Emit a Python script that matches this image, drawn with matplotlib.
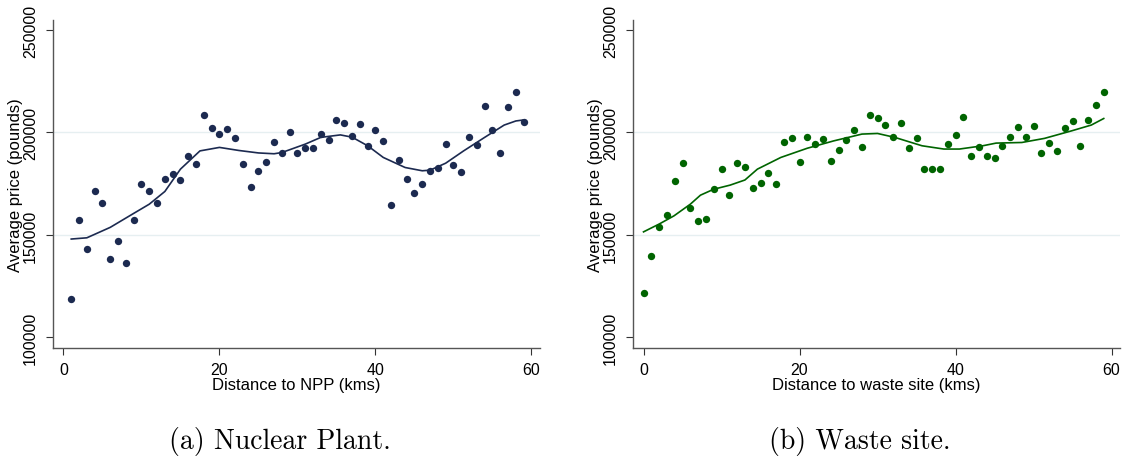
import matplotlib
matplotlib.use('Agg')
import matplotlib.pyplot as plt

# average house price by distance, nuclear power plant panel
npp_km = list(range(1, 60))
npp_price = [118700, 157200, 143100, 171500, 165400, 138500, 147000, 136200, 157100, 174800,
             171500, 165400, 177400, 179800, 176600, 188300, 184700, 208400, 202400, 199300,
             201800, 197100, 184500, 173300, 181100, 185500, 195400, 190200, 200100, 190000,
             192200, 192300, 199200, 196100, 206300, 204400, 198500, 204000, 193300, 201100,
             195900, 164700, 186800, 177100, 170400, 174900, 181300, 182700, 194300, 183900,
             180800, 198000, 193800, 212800, 201100, 189900, 212200, 219700, 205000]
# smoothed line
npp_fit_km = [1, 3, 6, 9, 11, 13, 15, 17.5, 20, 22.5, 25, 27, 28, 31, 33, 35.5, 37, 39, 41,
              43.8, 46, 47, 49, 51.3, 54, 56.5, 58, 59]
npp_fit = [148000, 148600, 153700, 160500, 165000, 171200, 182100, 191000, 192700, 191200,
           190000, 189600, 190200, 194300, 197600, 198800, 197700, 193500, 187800,
           182900, 181300, 181600, 185000, 191000, 197600, 203600, 205600, 206100]

# waste site panel
waste_km = list(range(0, 60))
waste_price = [121600, 139800, 154100, 159700, 176400, 184900, 162900, 156900, 157900, 172300,
               182000, 169400, 185200, 182900, 173000, 175100, 180100, 174800, 195300, 197200,
               185400, 198000, 194400, 196900, 186100, 191500, 196200, 201300, 193000, 208400,
               207000, 203700, 198000, 204400, 192300, 197100, 182400, 182100, 182100, 194600,
               198700, 207300, 188600, 192700, 188400, 187300, 193200, 197700, 202700, 197700,
               203100, 190200, 194800, 191000, 202400, 205400, 193300, 206000, 213300, 219500]
waste_fit_km = [0, 2, 3.9, 6, 7.3, 9, 11.1, 13, 14.6, 17.6, 21, 24.4, 26.7, 28, 30, 32.2,
                35.7, 38.5, 40.5, 43.5, 45.2, 48.5, 51.4, 54.9, 57.4, 59]
waste_fit = [151500, 155300, 159300, 165000, 169400, 172300, 174300, 176800, 182100, 187800,
             192300, 195900, 198000, 199200, 199500, 197600, 193500, 191900, 191900, 193500,
             194800, 195100, 197100, 200800, 203600, 206800]

yticks = [100000, 150000, 200000, 250000]
gridlines = [150000, 200000]
xticks = [0, 20, 40, 60]

plt.rcParams['font.family'] = ['Liberation Sans', 'DejaVu Sans']


def draw_panel(ax, km, price, fit_km, fit, color, xlabel, caption):
  '''
  one Stata-style scatter with its smoothed line
  '''
  for y in gridlines:
    ax.axhline(y, color='#e6eff1', lw=1.0, zorder=0)
  ax.scatter(km, price, s=28, color=color, zorder=3, linewidths=0)
  ax.plot(fit_km, fit, color=color, lw=1.2, zorder=2)
  ax.set_xlim(-1.3, 61.1)
  ax.set_ylim(95000, 255000)
  ax.set_xticks(xticks)
  ax.set_yticks(yticks)
  ax.set_yticklabels([str(t) for t in yticks], rotation=90, va='center')
  ax.tick_params(axis='both', direction='out', length=5, width=0.8, color='#333333',
                 labelsize=11.5)
  ax.tick_params(axis='x', pad=5)
  ax.tick_params(axis='y', pad=6)
  for side in ['top', 'right']:
    ax.spines[side].set_visible(False)
  for side in ['left', 'bottom']:
    ax.spines[side].set_color('#555555')
    ax.spines[side].set_linewidth(1.0)
  ax.set_xlabel(xlabel, fontsize=12)
  ax.set_ylabel('Average price (pounds)', fontsize=12)
  ax.xaxis.set_label_coords(0.5, -0.088)
  ax.yaxis.set_label_coords(-0.062, 0.5)
  ax.text(0.466, -0.283, caption, transform=ax.transAxes, ha='center', va='center',
          fontsize=20, family='cmr10')


fig = plt.figure(figsize=(11.27, 4.6), dpi=100)
ax1 = fig.add_axes([0.0473, 0.242, 0.4319, 0.713])
ax2 = fig.add_axes([0.562, 0.242, 0.4319, 0.713])

draw_panel(ax1, npp_km, npp_price, npp_fit_km, npp_fit, '#1c2a50',
           'Distance to NPP (kms)', '(a) Nuclear Plant.')
draw_panel(ax2, waste_km, waste_price, waste_fit_km, waste_fit, '#006400',
           'Distance to waste site (kms)', '(b) Waste site.')

fig.savefig('out.png', dpi=100)
plt.close()
